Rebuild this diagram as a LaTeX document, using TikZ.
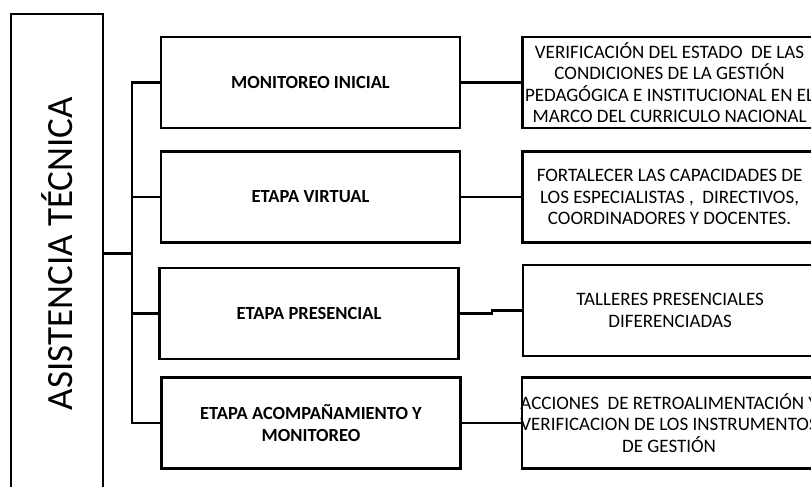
\documentclass[tikz,border=0pt]{standalone}
\usepackage{fontspec}
\setmainfont{Carlito}
\usetikzlibrary{positioning}
\newcommand{\wideline}[1]{\makebox[250pt]{#1}}

\begin{document}
\begin{tikzpicture}[x=1pt,y=-1pt]
\tikzset{
  every node/.style={font=\fontsize{19}{21.5}\selectfont},
  box/.style={draw,line width=2.6pt,minimum width=299pt,minimum height=91pt,align=center,inner sep=2pt},
  stage/.style={box,font=\fontsize{18.5}{22}\selectfont\bfseries},
  goal/.style={box,minimum width=294pt},
  link/.style={line width=2.2pt,draw}
}
\clip (0,0) rectangle (811,487);

%ROOT
\node[draw,line width=2.6pt,minimum width=92pt,minimum height=479pt,
  font=\fontsize{37}{42}\selectfont] (AT) at (57,253.5) {\rotatebox{90}{ASISTENCIA TÉCNICA}};
\coordinate[right=28pt of AT.east] (HUB);

%STAGES
\node[stage] (M1) at (310.5,82.5) {MONITOREO INICIAL};
\node[stage] (M2) at (310.5,197) {ETAPA VIRTUAL};
\node[stage] (M3) at (309,313.5) {ETAPA PRESENCIAL};
\node[stage] (M4) at (311,423) {ETAPA ACOMPAÑAMIENTO Y\\MONITOREO};

%GOALS
\node[goal] (R1) [right=60pt of M1] {VERIFICACIÓN DEL ESTADO~ DE LAS\\CONDICIONES DE LA GESTIÓN\\\wideline{PEDAGÓGICA E INSTITUCIONAL EN EL}\\MARCO DEL CURRICULO NACIONAL};
\node[goal] (R2) [right=60pt of M2] {FORTALECER LAS CAPACIDADES DE\\LOS ESPECIALISTAS ,~ DIRECTIVOS,\\COORDINADORES Y DOCENTES.};
\node[goal] (R3) [right=62pt of M3,yshift=3pt] {TALLERES PRESENCIALES\\DIFERENCIADAS};
\node[goal] (R4) [right=59pt of M4] {\wideline{ACCIONES~ DE RETROALIMENTACIÓN Y}\\\wideline{VERIFICACION DE LOS INSTRUMENTOS}\\DE GESTIÓN};

%PATHS
\path[link] (AT.east) -- (HUB);
\foreach \m in {M1,M2,M3,M4}
  \path[link] (HUB) |- (\m.west);
\foreach \m/\r in {M1/R1,M2/R2,M4/R4}
  \path[link] (\m.east) -- (\r.west);
%%jog
\path[link] (M3.east) -- ++(32,0) |- (R3.west);

\end{tikzpicture}
\end{document}
